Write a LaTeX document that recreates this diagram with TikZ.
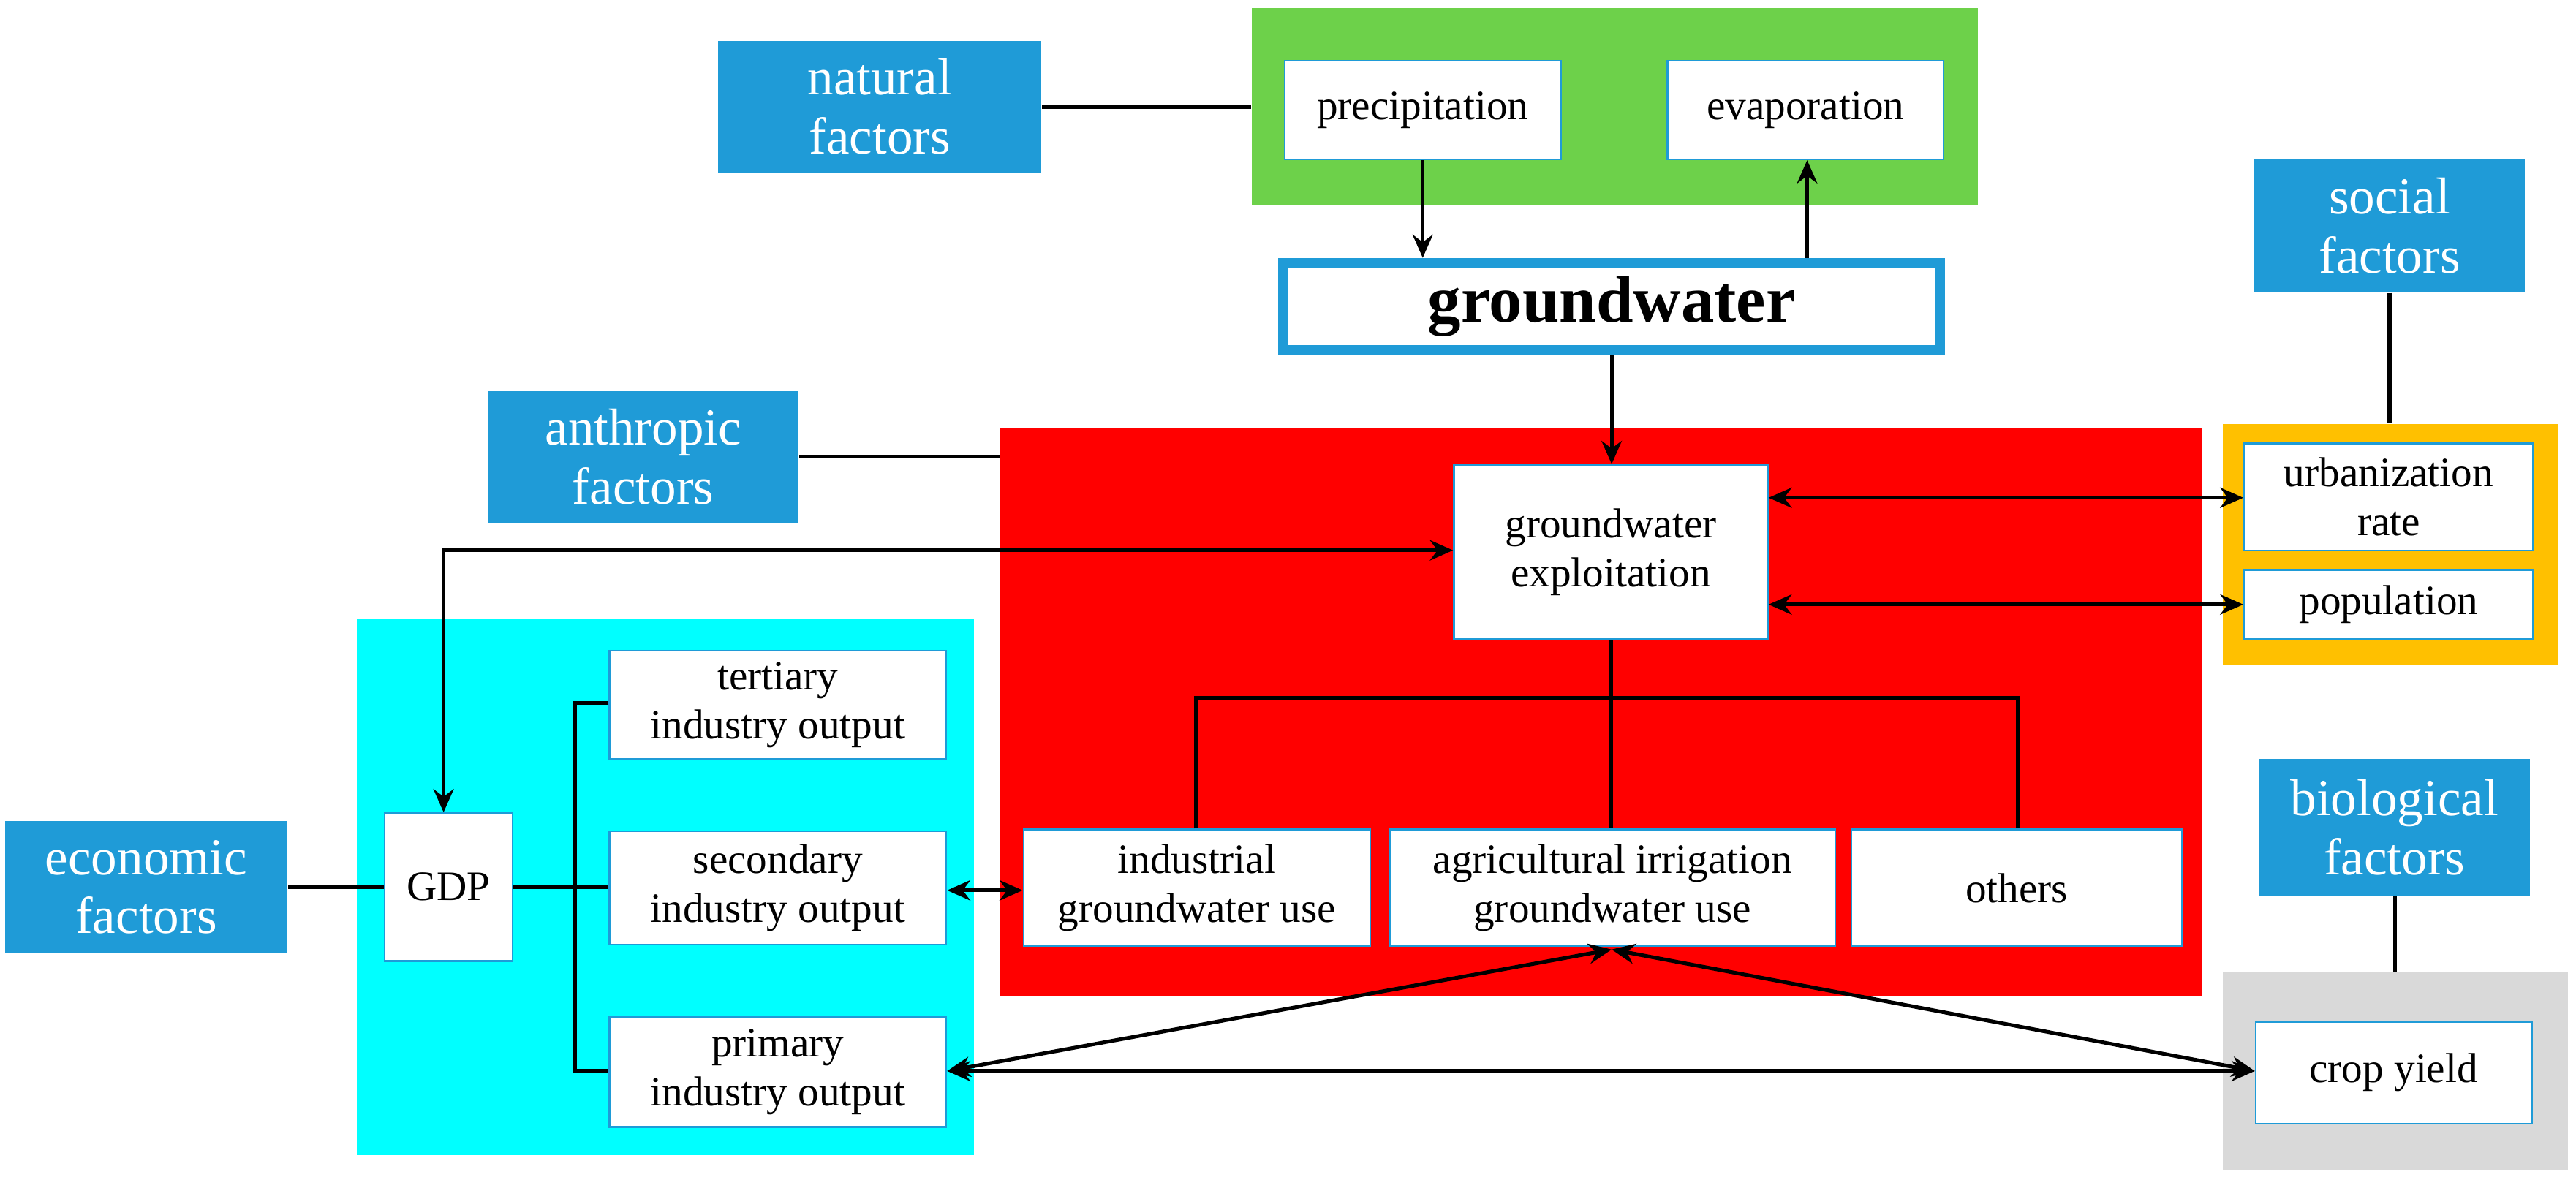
\documentclass[tikz,border=0pt]{standalone}
\usetikzlibrary{fit,arrows.meta}
\usepackage{fontspec}
\setmainfont{Liberation Serif}
\definecolor{fblue}{HTML}{1F9BD7}
\definecolor{fgreen}{HTML}{6DD14A}
\definecolor{fcyan}{HTML}{00FFFF}
\definecolor{forange}{HTML}{FFC000}
\definecolor{fgray}{HTML}{D9D9D9}
\tikzset{
 region/.style={fill=#1,draw=none,inner sep=0pt},
 factor/.style={fill=fblue,draw=none,inner sep=0pt,text=white,align=center,font=\fontsize{18}{20.5}\selectfont},
 wbox/.style={fill=white,draw=fblue,line width=0.6pt,inner sep=0pt,align=center,font=\fontsize{14.5}{17}\selectfont},
 con/.style={line width=1.3pt},
 arr/.style={con,-{Stealth[length=8pt,width=7pt]}},
 darr/.style={con,{Stealth[length=8pt,width=7pt]}-{Stealth[length=8pt,width=7pt]}}
}
\begin{document}
\begin{tikzpicture}[x=0.02cm,y=-0.02cm]
\useasboundingbox (0,0) rectangle (1568,718);
% regions
\node[region=fgreen,fit={(762,5)(1204,125)}] (green) {};
\node[region=red,fit={(609,261)(1340,606)}] (red) {};
\node[region=forange,fit={(1353,258)(1557,405)}] (orange) {};
\node[region=fcyan,fit={(217,377)(593,703)}] (cyan) {};
\node[region=fgray,fit={(1353,592)(1563,712)}] (gray) {};
% factors
\node[factor,fit={(437,25)(634,105)}] (nat) {};
\node at (nat.center) [factor] {natural\\factors};
\node[factor,fit={(1372,97)(1537,178)}] (soc) {};
\node at (soc.center) [factor] {social\\factors};
\node[factor,fit={(297,238)(486,318)}] (ant) {};
\node at (ant.center) [factor] {anthropic\\factors};
\node[factor,fit={(3,500)(175,580)}] (eco) {};
\node at (eco.center) [factor] {economic\\factors};
\node[factor,fit={(1375,462)(1540,545)}] (bio) {};
\node at (bio.center) [factor] {biological\\factors};
% white boxes
\newcommand\wb[6]{\node[wbox,fit={(#2,#3)(#4,#5)}] (#1) {};
 \node at (#1.center) [align=center,font=\fontsize{14.5}{17}\selectfont] {#6};}
\wb{pre}{782}{37}{950}{97}{precipitation}
\wb{eva}{1015}{37}{1183}{97}{evaporation}
\node[fill=white,draw=fblue,line width=3.5pt,inner sep=0pt,fit={(781,160)(1181,213)}] (gw) {};
\node at (gw.center) [font=\fontsize{23}{26}\selectfont\bfseries] {groundwater};
\wb{exp}{885}{283}{1076}{389}{groundwater\\exploitation}
\wb{urb}{1366}{270}{1542}{335}{urbanization\\rate}
\wb{pop}{1366}{347}{1542}{389}{population}
\wb{ter}{371}{396}{576}{462}{tertiary\\industry output}
\wb{sec}{371}{506}{576}{575}{secondary\\industry output}
\wb{pri}{371}{619}{576}{686}{primary\\industry output}
\wb{gdp}{234}{495}{312}{585}{GDP}
\wb{ind}{623}{505}{834}{576}{industrial\\groundwater use}
\wb{agr}{846}{505}{1117}{576}{agricultural irrigation\\groundwater use}
\wb{oth}{1127}{505}{1328}{576}{others}
\wb{crop}{1373}{622}{1541}{684}{crop yield}
% connectors
\draw[con] (nat.east) -- (green.west|-nat.east);
\draw[arr] (pre.south-|866,0) -- (gw.north-|866,0);
\draw[arr] (gw.north-|1100,0) -- (eva.south-|1100,0);
\draw[arr] (gw.south-|981,0) -- (exp.north-|981,0);
\draw[con] (ant.east|-0,278) -- (red.west|-0,278);
\draw[con] (soc.south) -- (orange.north-|soc.south);
\draw[con] (bio.south-|1458,0) -- (gray.north-|1458,0);
\draw[darr] (exp.east|-0,303) -- (urb.west|-0,303);
\draw[darr] (exp.east|-0,368) -- (pop.west|-0,368);
\draw[darr] (exp.west|-0,335) -| (gdp.north-|270,0);
\draw[con] (exp.south) -- (agr.north-|exp.south);
\draw[con] (ind.north-|728,0) -- (728,425) -- (1228,425) -- (oth.north-|1228,0);
\draw[con] (eco.east|-0,540) -- (gdp.west|-0,540);
\draw[con] (gdp.east|-0,540) -- (350,540);
\draw[con] (ter.west|-0,428) -- (350,428) -- (350,652) -- (pri.west|-0,652);
\draw[con] (350,540) -- (sec.west|-0,540);
\draw[darr] (sec.east|-0,542) -- (ind.west|-0,542);
\draw[darr] (pri.east|-0,652) -- (crop.west|-0,652);
\coordinate (am) at (981,578);
\draw[darr] (pri.east|-0,652) -- (am);
\draw[darr] (crop.west|-0,652) -- (am);
\end{tikzpicture}
\end{document}
